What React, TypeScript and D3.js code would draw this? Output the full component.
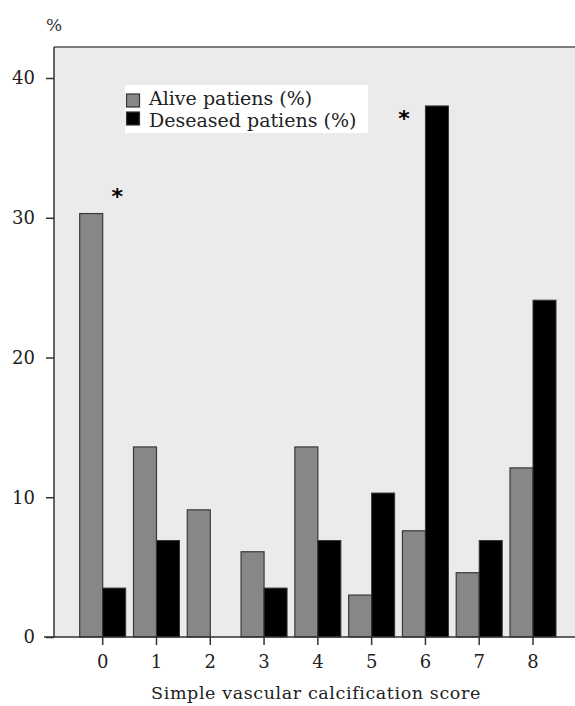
import { useEffect, useRef } from 'react';
import * as d3 from 'd3';

const scores = ['0', '1', '2', '3', '4', '5', '6', '7', '8'];
const alive = [30.3, 13.6, 9.1, 6.1, 13.6, 3.0, 7.6, 4.6, 12.1];
const deceased = [3.5, 6.9, 0, 3.5, 6.9, 10.3, 38.0, 6.9, 24.1];
const yTicks = [0, 10, 20, 30, 40];
const seriesNames = ['Alive patiens (%)', 'Deseased patiens (%)'];
const starAt = ['0', '6'];

const FONT = '"DejaVu Serif", serif';

function App() {
  const ref = useRef<SVGSVGElement>(null);
  const width = 575;
  const height = 706;
  const left = 54;
  const top = 47;
  const bottom = 637;

  useEffect(() => {
    const svg = d3.select(ref.current);
    svg.selectAll('*').remove();

    const y = d3.scaleLinear().domain([0, 40]).range([bottom, 78]);

    const x = d3.scaleBand()
      .domain(scores)
      .range([75.8, 559.9])
      .paddingInner(0.145)
      .paddingOuter(0.0725);

    const sub = d3.scaleBand()
      .domain(['alive', 'deceased'])
      .range([0, x.bandwidth()]);

    svg.append('rect')
      .attr('x', left)
      .attr('y', top)
      .attr('width', width - left)
      .attr('height', bottom - top)
      .attr('fill', '#ebebeb');

    svg.append('line')
      .attr('x1', left).attr('x2', width)
      .attr('y1', top).attr('y2', top)
      .attr('stroke', '#555').attr('stroke-width', 1.5);

    const rows = scores.map((s, i) => ({ s, alive: alive[i], deceased: deceased[i] }));

    const g = svg.append('g');
    g.selectAll('rect.alive')
      .data(rows.filter((d) => d.alive > 0))
      .enter()
      .append('rect')
      .attr('x', (d) => x(d.s)! + sub('alive')!)
      .attr('y', (d) => y(d.alive))
      .attr('width', sub.bandwidth())
      .attr('height', (d) => y(0) - y(d.alive))
      .attr('fill', '#878787')
      .attr('stroke', '#3a3a3a')
      .attr('stroke-width', 1.2);

    g.selectAll('rect.dec')
      .data(rows.filter((d) => d.deceased > 0))
      .enter()
      .append('rect')
      .attr('x', (d) => x(d.s)! + sub('deceased')!)
      .attr('y', (d) => y(d.deceased))
      .attr('width', sub.bandwidth())
      .attr('height', (d) => y(0) - y(d.deceased))
      .attr('fill', '#000')
      .attr('stroke', '#333')
      .attr('stroke-width', 1);

    // asterisks above significant groups
    svg.append('g')
      .selectAll('text')
      .data(starAt)
      .enter()
      .append('text')
      .attr('x', (d) => (d === '0' ? x(d)! + sub('deceased')! + sub.bandwidth() / 2 + 3 : x(d)! + 1.5))
      .attr('y', (d) => (d === '0' ? 204 : 126))
      .attr('text-anchor', 'middle')
      .attr('font-family', 'DejaVu Sans, sans-serif')
      .attr('font-weight', 'bold')
      .attr('font-size', 22)
      .text('*');

    const yAxis = d3.axisLeft(y).tickValues(yTicks).tickSize(8).tickPadding(11);
    const ya = svg.append('g')
      .attr('transform', `translate(${left}, 0)`)
      .call(yAxis);
    ya.select('.domain').attr('d', `M0,${top}V${bottom}`).attr('stroke', '#333').attr('stroke-width', 1.5);
    ya.selectAll('.tick line').attr('stroke', '#333').attr('stroke-width', 1.5);
    ya.selectAll('.tick text')
      .attr('font-family', FONT)
      .attr('font-size', 18)
      .attr('fill', '#222');

    const xAxis = d3.axisBottom(x).tickSize(8).tickPadding(10);
    const xa = svg.append('g')
      .attr('transform', `translate(0, ${bottom})`)
      .call(xAxis);
    xa.select('.domain').attr('d', `M${left - 10},0H${width}`).attr('stroke', '#333').attr('stroke-width', 1.5);
    xa.selectAll('.tick line').attr('stroke', '#333').attr('stroke-width', 1.5);
    xa.selectAll('.tick text')
      .attr('font-family', FONT)
      .attr('font-size', 18)
      .attr('fill', '#222');

    svg.append('text')
      .attr('x', 316)
      .attr('y', 699)
      .attr('text-anchor', 'middle')
      .attr('font-family', FONT)
      .attr('font-size', 17.5)
      .attr('letter-spacing', 0.6)
      .attr('fill', '#222')
      .text('Simple vascular calcification score');

    svg.append('text')
      .attr('x', 46)
      .attr('y', 31)
      .attr('font-family', FONT)
      .attr('font-size', 17)
      .attr('fill', '#333')
      .text('%');

    // legend
    const lg = svg.append('g').attr('transform', 'translate(125, 85)');
    lg.append('rect')
      .attr('width', 243).attr('height', 48)
      .attr('fill', '#fff');
    const colours = ['#878787', '#000'];
    seriesNames.forEach((name, i) => {
      lg.append('rect')
        .attr('x', 1.5).attr('y', 9 + i * 18)
        .attr('width', 13).attr('height', 13)
        .attr('fill', colours[i])
        .attr('stroke', '#333')
        .attr('stroke-width', 1.2);
      lg.append('text')
        .attr('x', 24).attr('y', 20 + i * 22)
        .attr('font-family', FONT)
        .attr('font-size', 19)
        .attr('fill', '#222')
        .text(name);
    });
  }, []);

  return (
    <svg
      ref={ref}
      width={width}
      height={height}
      style={{ position: 'absolute', left: 0, top: 0, background: '#fff' }}
    />
  );
}

export default App;
